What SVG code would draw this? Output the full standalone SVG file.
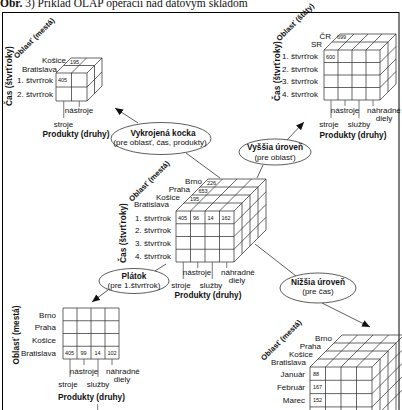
<svg xmlns="http://www.w3.org/2000/svg" width="402" height="410" viewBox="0 0 402 410">
<style>
.bg{fill:#fff}
.frame{fill:none;stroke:#000;stroke-width:1}
.g{fill:none;stroke:#333;stroke-width:0.75}
.tk{fill:none;stroke:#555;stroke-width:0.8}
.c{fill:none;stroke:#333;stroke-width:0.8}
.el{fill:#fff;stroke:#333;stroke-width:0.8}
text{font-family:"Liberation Sans",Arial,sans-serif;fill:#111}
.t{font-size:8px}
.n{font-size:5.5px}
.b{font-size:8.3px;font-weight:bold}
.ob{font-size:7.6px;font-weight:bold}
.e{font-size:8px}
.eb{font-size:8.3px;font-weight:bold}
.title{font-family:"Liberation Serif","Times New Roman",serif;font-size:11.5px}
.m{text-anchor:middle}
.r{text-anchor:end}
</style>
<defs>
<marker id="ah" markerUnits="userSpaceOnUse" markerWidth="9" markerHeight="7" refX="8" refY="3.5" orient="auto">
<path d="M0,0L8,3.5L0,7Z" fill="#111"/>
</marker>
</defs>
<rect class="bg" x="0" y="0" width="402" height="410"/>
<text class="title" x="0" y="6.5"><tspan font-weight="bold">Obr.</tspan> 3) Príklad OLAP operácií nad dátovým skladom</text>
<rect class="frame" x="2.5" y="12.5" width="396.5" height="410"/>

<g id="cube-slice3">
<path class="g" d="M56,73H87V101H56Z M71.5,73V101 M56,87H87 M56,73L71,58 M71.5,73L86.5,58 M87,73L102,58 M63.5,65.5H94.5 M71,58H102 M94.5,65.5V93.5 M102,58V86 M87,87L102,72 M87,101L102,86"/>
<text class="t r" x="66" y="63">Košice</text>
<text class="n" x="70" y="64">195</text>
<text class="t r" x="57" y="71.5">Bratislava</text>
<text class="t r" x="53" y="83">1. štvrťrok</text>
<text class="t r" x="53" y="97">2. štvrťrok</text>
<text class="n" x="58" y="82">405</text>
<path class="tk" d="M63.75,101V118 M79.25,101V107"/>
<text class="t m" x="79" y="113">nástroje</text>
<text class="t m" x="63.5" y="127">stroje</text>
<text class="b m" x="76" y="137">Produkty (druhy)</text>
<text class="b m" transform="translate(12,76) rotate(-90)">Čas (štvrťroky)</text>
<text class="ob m" transform="translate(36,40) rotate(-45)">Oblasť (mestá)</text>
</g>

<g id="cube-states">
<path class="g" d="M324,50H380V100H324Z M338,50V100 M352,50V100 M366,50V100 M324,62.5H380 M324,75H380 M324,87.5H380 M324,50L340,34 M338,50L354,34 M352,50L368,34 M366,50L382,34 M380,50L396,34 M332,42H388 M340,34H396 M388,42V92 M396,34V84 M380,62.5L396,46.5 M380,75L396,59 M380,87.5L396,71.5 M380,100L396,84"/>
<text class="t r" x="331" y="39">ČR</text>
<text class="n" x="337" y="38.5">699</text>
<text class="t r" x="322" y="46.5">SR</text>
<text class="t r" x="318" y="59">1. štvrťrok</text>
<text class="t r" x="318" y="71.5">2. štvrťrok</text>
<text class="t r" x="318" y="84">3. štvrťrok</text>
<text class="t r" x="318" y="96.5">4. štvrťrok</text>
<text class="n" x="326" y="58.5">600</text>
<path class="tk" d="M331,100V118 M345,100V106 M359,100V118 M373,100V106"/>
<text class="t m" x="345" y="113">nástroje</text>
<text class="t" x="367" y="113">náhradné</text>
<text class="t m" x="384" y="121">diely</text>
<text class="t m" x="329" y="127">stroje</text>
<text class="t m" x="359" y="127">služby</text>
<text class="b m" x="353" y="138">Produkty (druhy)</text>
<text class="b m" transform="translate(280,71) rotate(-90)">Čas (štvrťroky)</text>
<text class="ob m" transform="translate(297,24) rotate(-45)">Oblasť (štáty)</text>
</g>

<g id="cube-main">
<path class="g" d="M176,211H234V262H176Z M190.5,211V262 M205,211V262 M219.5,211V262 M176,223.75H234 M176,236.5H234 M176,249.25H234 M176,211L208,179 M190.5,211L222.5,179 M205,211L237,179 M219.5,211L251.5,179 M234,211L266,179 M184,203H242 M192,195H250 M200,187H258 M208,179H266 M242,203V254 M250,195V246 M258,187V238 M266,179V230 M234,223.75L266,191.75 M234,236.5L266,204.5 M234,249.25L266,217.25 M234,262L266,230"/>
<text class="t r" x="202" y="183.5">Brno</text>
<text class="t r" x="190" y="191.5">Praha</text>
<text class="t r" x="180" y="199.5">Košice</text>
<text class="t r" x="169" y="207">Bratislava</text>
<text class="n" x="207" y="185">226</text>
<text class="n" x="198.5" y="193">653</text>
<text class="n" x="190" y="201">195</text>
<text class="t r" x="171" y="220.5">1. štvrťrok</text>
<text class="t r" x="171" y="233">2. štvrťrok</text>
<text class="t r" x="171" y="246">3. štvrťrok</text>
<text class="t r" x="171" y="258.5">4. štvrťrok</text>
<text class="n" x="178" y="219.5">405</text>
<text class="n" x="193" y="219.5">96</text>
<text class="n" x="207.5" y="219.5">14</text>
<text class="n" x="221.5" y="219.5">162</text>
<path class="tk" d="M183.25,262V279 M197.75,262V268 M212.25,262V279 M226.75,262V268"/>
<text class="t m" x="197" y="275">nástroje</text>
<text class="t" x="221" y="275">náhradné</text>
<text class="t m" x="237" y="283">diely</text>
<text class="t m" x="181" y="288">stroje</text>
<text class="t m" x="211" y="288">služby</text>
<text class="b m" x="208" y="298">Produkty (druhy)</text>
<text class="b m" transform="translate(126,233) rotate(-90)">Čas (štvrťroky)</text>
<text class="ob m" transform="translate(151,183) rotate(-45)">Oblasť (mestá)</text>
</g>

<g id="slice">
<path class="g" d="M63,308H119V359H63Z M77,308V359 M91,308V359 M105,308V359 M63,320.75H119 M63,333.5H119 M63,346.25H119"/>
<text class="t r" x="56" y="317.5">Brno</text>
<text class="t r" x="56" y="330">Praha</text>
<text class="t r" x="56" y="343">Košice</text>
<text class="t r" x="56" y="355.5">Bratislava</text>
<text class="n" x="65" y="355">405</text>
<text class="n" x="80.5" y="355">99</text>
<text class="n" x="94.5" y="355">14</text>
<text class="n" x="107.5" y="355">102</text>
<path class="tk" d="M70,359V377 M84,359V365 M98,359V377 M112,359V365 M97.7,404V410"/>
<text class="t m" x="84" y="373.5">nástroje</text>
<text class="t" x="106" y="373.5">náhradné</text>
<text class="t m" x="122" y="381.5">diely</text>
<text class="t m" x="68" y="386.5">stroje</text>
<text class="t m" x="98" y="386.5">služby</text>
<text class="b m" x="91.5" y="400">Produkty (druhy)</text>
<text class="b m" transform="translate(19,335) rotate(-90)">Oblasť (mestá)</text>
</g>

<g id="cube-months">
<path class="g" d="M310,367H372V425H310Z M325.5,367V425 M341,367V425 M356.5,367V425 M310,380.3H372 M310,393.6H372 M310,406.9H372 M310,367L342,335 M325.5,367L357.5,335 M341,367L373,335 M356.5,367L388.5,335 M372,367L404,335 M318,359H380 M326,351H388 M334,343H396 M342,335H404 M380,359V425 M388,351V425 M396,343V425 M404,335V425 M372,380.3L404,348.3 M372,393.6L404,361.6 M372,406.9L404,374.9 M372,420.2L404,388.2"/>
<text class="t r" x="332" y="341">Brno</text>
<text class="t r" x="321" y="349">Praha</text>
<text class="t r" x="313" y="357">Košice</text>
<text class="t r" x="306" y="365">Bratislava</text>
<text class="t r" x="305" y="376.5">Január</text>
<text class="t r" x="305" y="390">Február</text>
<text class="t r" x="305" y="403">Marec</text>
<text class="t r" x="305" y="415">Apríl</text>
<text class="n" x="313" y="375.5">88</text>
<text class="n" x="313" y="389">167</text>
<text class="n" x="313" y="402">152</text>
<text class="ob m" transform="translate(283,342) rotate(-45)">Oblasť (mestá)</text>
</g>

<g id="connectors">
<path class="c" d="M138,123L115,108" marker-end="url(#ah)"/>
<path class="c" d="M186,153L220,178"/>
<path class="c" d="M287,140L304,122" marker-end="url(#ah)"/>
<path class="c" d="M263,165L257,178"/>
<path class="c" d="M155,271L166,264"/>
<path class="c" d="M108,290L92,302" marker-end="url(#ah)"/>
<path class="c" d="M255,244L296,276"/>
<path class="c" d="M322,303L370,327" marker-end="url(#ah)"/>
</g>

<g id="op-slice-dice">
<ellipse class="el" cx="161" cy="138.5" rx="50" ry="16"/>
<text class="eb m" x="163" y="136">Vykrojená kocka</text>
<text class="e m" x="160" y="145">(pre oblasť, čas, produkty)</text>
</g>
<g id="op-rollup">
<ellipse class="el" cx="275" cy="152" rx="36" ry="13"/>
<text class="eb m" x="275" y="150">Vyššia úroveň</text>
<text class="e m" x="275" y="159.5">(pre oblasť)</text>
</g>
<g id="op-slice">
<ellipse class="el" cx="134" cy="281" rx="35" ry="12.5"/>
<text class="eb m" x="134" y="278.5">Plátok</text>
<text class="e m" x="134" y="288">(pre 1.štvrťrok)</text>
</g>
<g id="op-drilldown">
<ellipse class="el" cx="318" cy="288" rx="38" ry="15"/>
<text class="eb m" x="318" y="285">Nižšia úroveň</text>
<text class="e m" x="318" y="294">(pre čas)</text>
</g>
</svg>
